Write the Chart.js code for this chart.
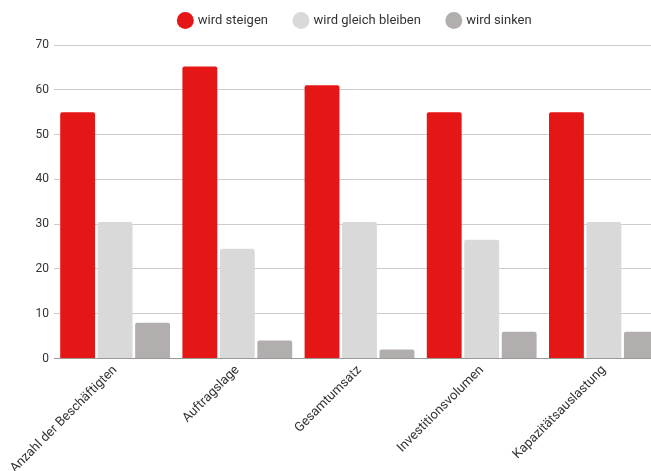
<!DOCTYPE html>
<html>
<head>
<meta charset="utf-8">
<script src="https://cdn.jsdelivr.net/npm/chart.js@4/dist/chart.umd.min.js"></script>
<style>
html,body{margin:0;padding:0;background:#fff;overflow:hidden;}
#wrap{position:relative;width:711px;height:480px;}
</style>
</head>
<body>
<div id="wrap"><canvas id="c"></canvas></div>
<script>
const categories = ["Anzahl der Beschäftigten", "Auftragslage", "Gesamtumsatz", "Investitionsvolumen", "Kapazitätsauslastung"];
const seriesNames = ["wird steigen", "wird gleich bleiben", "wird sinken"];
const steigen = [55, 65.2, 61, 55, 55];
const gleich = [30.5, 24.5, 30.5, 26.5, 30.5];
const sinken = [8, 4, 2, 6, 6];
const colors = ["#e51616", "#d9d9d9", "#b3aeae"];

const font = "Roboto";
new Chart(document.getElementById('c'), {
  type: 'bar',
  data: {
    labels: categories,
    datasets: [steigen, gleich, sinken].map((d, i) => ({
      label: seriesNames[i],
      data: d,
      backgroundColor: colors[i],
      borderRadius: {topLeft: 2, topRight: 2},
      borderSkipped: 'bottom',
      categoryPercentage: 0.92,
      barPercentage: 0.93
    }))
  },
  options: {
    responsive: true,
    maintainAspectRatio: false,
    animation: false,
    layout: {padding: {left: 0, right: 0, top: -13, bottom: 0}},
    plugins: {
      legend: {
        position: 'top',
        labels: {
          usePointStyle: true,
          pointStyle: 'circle',
          boxWidth: 12, boxHeight: 12,
          padding: 27,
          color: '#333',
          font: {family: font, size: 13}
        }
      },
      tooltip: {enabled: false}
    },
    scales: {
      x: {
        grid: {display: false, drawTicks: false},
        border: {display: true, color: '#999', width: 1},
        ticks: {
          color: '#333',
          font: {family: font, size: 13},
          maxRotation: 45, minRotation: 45,
          padding: 4
        }
      },
      xt: {
        type: 'category',
        position: 'top',
        display: true,
        grid: {display: false, drawTicks: false},
        border: {display: false},
        ticks: {display: false},
        afterFit: (s) => { s.height = 8; }
      },
      y: {
        min: 0, max: 70,
        grid: {color: '#cccccc', drawTicks: false},
        border: {display: false},
        ticks: {
          stepSize: 10,
          color: '#333',
          font: {family: font, size: 12},
          padding: 5
        },
        afterFit: (s) => { s.width = 54; }
      },
      yr: {
        position: 'right',
        display: true,
        grid: {display: false, drawTicks: false},
        border: {display: false},
        ticks: {display: false},
        afterFit: (s) => { s.width = 46; }
      }
    }
  }
});
</script>
</body>
</html>
